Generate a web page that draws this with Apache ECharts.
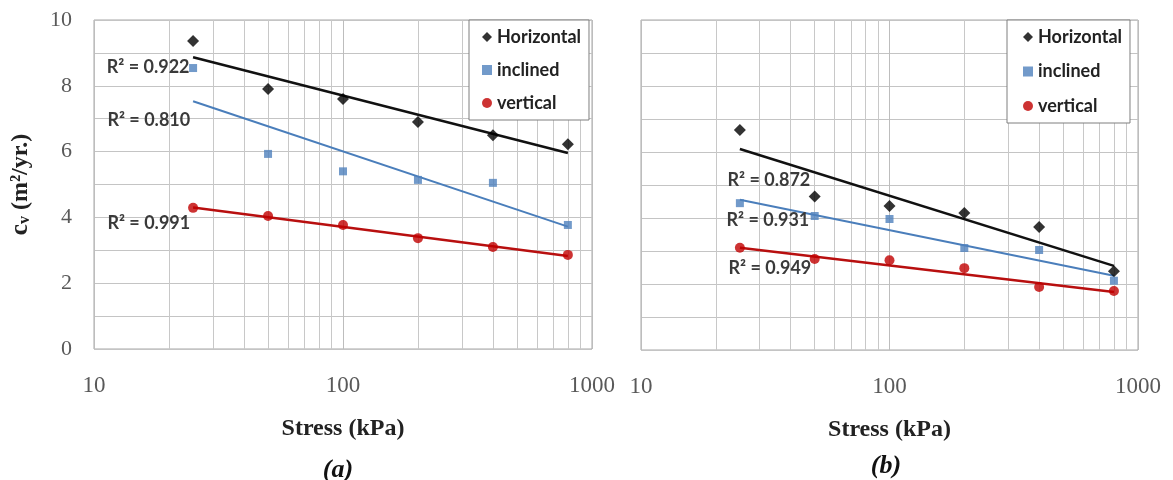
<!DOCTYPE html>
<html>
<head>
<meta charset="utf-8">
<script src="https://cdn.jsdelivr.net/npm/echarts@6/dist/echarts.min.js"></script>
<style>
  html, body { margin: 0; padding: 0; background: #fff; }
  #chart { width: 1173px; height: 480px; }
</style>
</head>
<body>
<div id="chart"></div>
<script>
// stress levels (kPa)
var stress = [25, 50, 100, 200, 400, 800];

// panel (a)
var horizA = [9.36, 7.9, 7.6, 6.9, 6.5, 6.22];
var inclinedA = [8.54, 5.93, 5.4, 5.14, 5.05, 3.77];
var verticalA = [4.29, 4.04, 3.77, 3.37, 3.1, 2.86];

// panel (b)
var horizB = [6.67, 4.65, 4.36, 4.15, 3.73, 2.39];
var inclinedB = [4.45, 4.06, 3.97, 3.09, 3.03, 2.1];
var verticalB = [3.1, 2.76, 2.72, 2.48, 1.91, 1.79];

// trend line end points
var trendStress = [25, 800];
var trendHorizA = [8.87, 5.96];
var trendInclinedA = [7.53, 3.72];
var trendVerticalA = [4.3, 2.83];
var trendHorizB = [6.09, 2.55];
var trendInclinedB = [4.55, 2.25];
var trendVerticalB = [3.1, 1.76];

// R² labels: text and anchor [stress, cv]
var r2A = [["R\u00b2 = 0.922", 16.5, 8.57], ["R\u00b2 = 0.810", 16.6, 6.96], ["R\u00b2 = 0.991", 16.6, 3.83]];
var r2B = [["R\u00b2 = 0.872", 32.7, 5.15], ["R\u00b2 = 0.931", 32.4, 3.94], ["R\u00b2 = 0.949", 33.0, 2.48]];

// tick values
var yTicks = [0, 2, 4, 6, 8, 10];
var minorStress = [20, 30, 40, 50, 60, 70, 80, 90, 200, 300, 400, 500, 600, 700, 800, 900];

var names = ["Horizontal", "inclined", "vertical"];
var colors = ["#000000", "#4f81bd", "#c00000"];
var trendColors = ["#111111", "#4a7ebb", "#b80f0f"];
var symbols = ["diamond", "rect", "circle"];
var symbolSizes = [12, 8, 10];

function pairs(xs, ys) {
    return xs.map(function (x, i) { return [x, ys[i]]; });
}

var serif = '"Liberation Serif", "DejaVu Serif", serif';
var sans = 'Lato, "Open Sans", sans-serif';

function xAxisFor(idx) {
    return {
        type: "log",
        logBase: 10,
        gridIndex: idx,
        min: 10,
        max: 1000,
        axisLine: { show: false },
        axisTick: { show: false },
        splitLine: { show: true, lineStyle: { color: "#bdbdbd", width: 1 } },
        axisLabel: {
            fontFamily: serif, fontSize: 23, color: "#595959", margin: 25,
            formatter: function (v) { return String(Math.round(v)); },
        },
        name: "Stress (kPa)",
        nameLocation: "middle",
        nameGap: 68,
        nameTextStyle: { fontFamily: serif, fontSize: 24, fontWeight: "bold", color: "#222" },
    };
}

function yAxisFor(idx, labels) {
    var ax = {
        type: "value",
        gridIndex: idx,
        min: 0,
        max: 10,
        interval: 1,
        axisLine: { show: false },
        axisTick: { show: false },
        splitLine: { show: true, lineStyle: { color: "#c4c4c4", width: 1 } },
        axisLabel: {
            show: labels,
            fontFamily: serif,
            fontSize: 22,
            color: "#595959",
            margin: 22,
            formatter: function (v) { return yTicks.indexOf(v) >= 0 ? String(v) : ""; },
        },
    };
    if (labels) {
        ax.name = "{c|c}{v|v}{t| (m\u00b2/yr.)}";
        ax.nameLocation = "middle";
        ax.nameGap = 61;
        ax.nameRotate = 90;
        ax.nameTextStyle = {
            rich: {
                c: { fontFamily: serif, fontSize: 25, fontWeight: "bold", color: "#222", verticalAlign: "bottom", lineHeight: 26 },
                v: { fontFamily: serif, fontSize: 16, fontWeight: "bold", color: "#222", verticalAlign: "bottom", lineHeight: 18 },
                t: { fontFamily: serif, fontSize: 24, fontWeight: "bold", color: "#222", verticalAlign: "bottom", lineHeight: 26 },
            },
        };
    }
    return ax;
}

function panelSeries(idx, ys, trends, r2) {
    var out = [];
    // trend lines
    trends.forEach(function (t, k) {
        var s = {
            name: names[k] + " trend " + idx,
            type: "line",
            xAxisIndex: idx,
            yAxisIndex: idx,
            data: pairs(trendStress, t),
            symbol: "none",
            lineStyle: { color: trendColors[k], width: k === 1 ? 2 : 2.5 },
            z: 3,
            silent: true,
            markPoint: {
                symbol: "circle",
                symbolSize: 0,
                silent: true,
                label: {
                    show: true,
                    formatter: "{b}",
                    fontFamily: sans,
                    fontSize: 18,
                    fontWeight: "bold",
                    color: "#3a3a3a",
                },
                data: [{ name: r2[k][0], coord: [r2[k][1], r2[k][2]] }],
            },
        };
        if (k === 0) {
            s.markLine = {
                silent: true,
                symbol: ["none", "none"],
                label: { show: false },
                lineStyle: { color: "#c8c8c8", width: 1, type: "solid" },
                data: minorStress.map(function (v) { return { xAxis: v }; }),
                z: 1,
            };
        }
        out.push(s);
    });
    // measured points
    ys.forEach(function (y, k) {
        out.push({
            name: names[k],
            type: "scatter",
            xAxisIndex: idx,
            yAxisIndex: idx,
            data: pairs(stress, y),
            symbol: symbols[k],
            symbolSize: symbolSizes[k],
            itemStyle: { color: colors[k] },
            z: 4,
        });
    });
    return out;
}

function legendFor(left, gap, padLeft) {
    return {
        left: left,
        top: 20,
        orient: "vertical",
        selectedMode: false,
        backgroundColor: "#fff",
        borderColor: "#7f7f7f",
        borderWidth: 1,
        padding: [8, 8, 8, padLeft],
        itemGap: gap,
        itemWidth: 10,
        itemHeight: 10,
        textStyle: { fontFamily: sans, fontSize: 18, fontWeight: "bold", color: "#222" },
        data: names.map(function (n, k) { return { name: n, icon: symbols[k] }; }),
    };
}

var chart = echarts.init(document.getElementById("chart"));
var option = {
    animation: false,
    backgroundColor: "#fff",
    grid: [
        { left: 94, top: 20, width: 498, height: 329, show: true, borderColor: "#a6a6a6", borderWidth: 1, backgroundColor: "#fff" },
        { left: 641, top: 20, width: 497, height: 330, show: true, borderColor: "#a6a6a6", borderWidth: 1, backgroundColor: "#fff" },
    ],
    xAxis: [xAxisFor(0), xAxisFor(1)],
    yAxis: [yAxisFor(0, true), yAxisFor(1, false)],
    legend: [legendFor(469, 15, 13), legendFor(1007, 16.5, 16)],
    graphic: [
        { type: "text", x: 338, y: 470, style: { text: "(a)", align: "center", verticalAlign: "middle", font: 'italic bold 26px "Liberation Serif"', fill: "#111" } },
        { type: "text", x: 886, y: 466, style: { text: "(b)", align: "center", verticalAlign: "middle", font: 'italic bold 26px "Liberation Serif"', fill: "#111" } },
    ],
    series: panelSeries(0, [horizA, inclinedA, verticalA], [trendHorizA, trendInclinedA, trendVerticalA], r2A)
        .concat(panelSeries(1, [horizB, inclinedB, verticalB], [trendHorizB, trendInclinedB, trendVerticalB], r2B)),
};
chart.setOption(option);
window.addEventListener("resize", function () { chart.resize(); });
</script>
</body>
</html>
